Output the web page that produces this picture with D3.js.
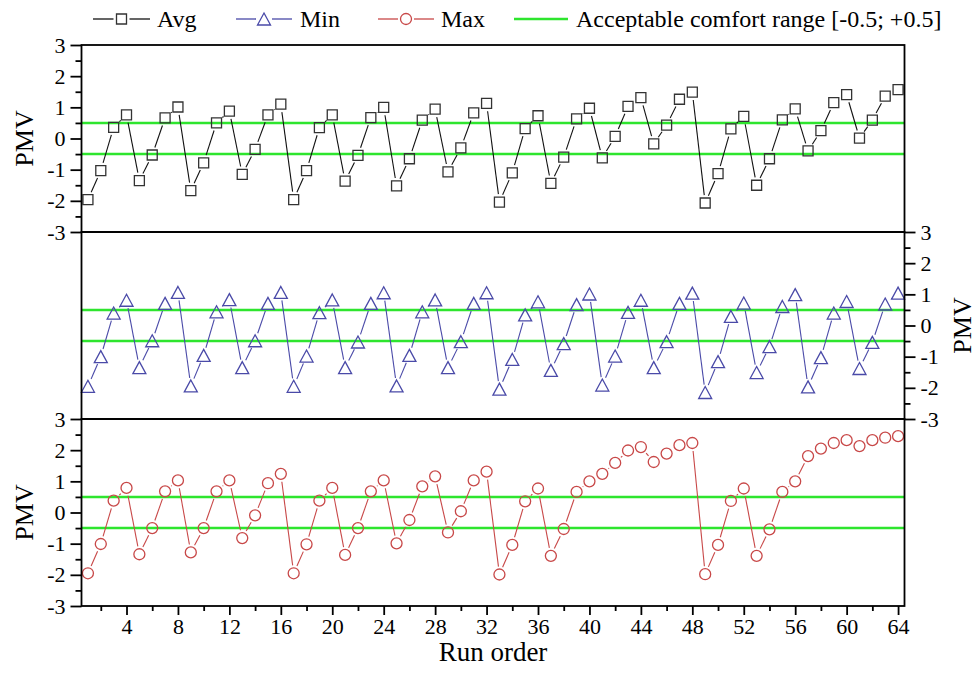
<!DOCTYPE html>
<html><head><meta charset="utf-8">
<script src="https://cdn.jsdelivr.net/npm/d3@7"></script>
<style>body{margin:0;background:#fff}text{font-family:"Liberation Serif","Times New Roman",serif;fill:#000}</style>
</head><body><svg id="c" width="976" height="679"></svg>
<script>
const runs = d3.range(1, 65);
const avgValues = [-1.96,-1.03,0.36,0.76,-1.35,-0.53,0.66,1.01,-1.67,-0.78,0.50,0.88,-1.15,-0.35,0.76,1.10,
  -1.96,-1.03,0.35,0.76,-1.37,-0.54,0.67,1.00,-1.52,-0.65,0.59,0.94,-1.07,-0.30,0.82,1.13,
  -2.04,-1.10,0.32,0.73,-1.44,-0.60,0.63,0.97,-0.62,0.07,1.03,1.31,-0.17,0.43,1.26,1.49,
  -2.07,-1.13,0.31,0.71,-1.50,-0.65,0.60,0.95,-0.40,0.25,1.15,1.41,0.01,0.59,1.36,1.57];
const minValues = [-1.95,-1.00,0.40,0.81,-1.35,-0.49,0.71,1.06,-1.94,-0.96,0.44,0.83,-1.35,-0.49,0.71,1.06,
  -1.95,-0.98,0.41,0.82,-1.35,-0.53,0.71,1.05,-1.94,-0.96,0.44,0.82,-1.35,-0.52,0.71,1.05,
  -2.04,-1.09,0.34,0.76,-1.44,-0.58,0.67,1.01,-1.91,-0.98,0.42,0.81,-1.35,-0.52,0.71,1.04,
  -2.15,-1.16,0.29,0.72,-1.51,-0.68,0.61,0.99,-1.97,-1.03,0.40,0.77,-1.38,-0.54,0.69,1.04];
const maxValues = [-1.95,-1.01,0.38,0.79,-1.34,-0.50,0.68,1.03,-1.28,-0.50,0.68,1.03,-0.82,-0.09,0.94,1.24,
  -1.95,-1.02,0.38,0.79,-1.36,-0.50,0.68,1.03,-0.99,-0.24,0.84,1.16,-0.64,0.04,1.03,1.31,
  -1.99,-1.04,0.36,0.77,-1.39,-0.53,0.66,1.00,1.24,1.59,1.99,2.10,1.62,1.89,2.16,2.23,
  -1.98,-1.04,0.37,0.77,-1.39,-0.54,0.66,1.00,1.81,2.05,2.23,2.32,2.13,2.32,2.40,2.45];
const comfortRange = [-0.5, 0.5];
const yTickLabels = [-3, -2, -1, 0, 1, 2, 3];
const yMinorTicks = [-2.5, -1.5, -0.5, 0.5, 1.5, 2.5];
const xTickLabels = [4, 8, 12, 16, 20, 24, 28, 32, 36, 40, 44, 48, 52, 56, 60, 64];
const xMinorTicks = [2, 6, 10, 14, 18, 22, 26, 30, 34, 38, 42, 46, 50, 54, 58, 62];
const seriesNames = ["Avg", "Min", "Max"];
const comfortLabel = "Acceptable comfort range [-0.5; +0.5]";

const svg = d3.select("#c");
const L = 81.5, R = 904.5, panelH = 187;
const tops = [45, 232, 419];
const colors = ["#333333", "#4a4aa8", "#c84848"];
const lineColors = ["#111111", "#4a4aa8", "#c84848"];
const green = "#2ee52e";
const fmt = d => String(d);
const x = d3.scaleLinear().domain([0.5, 64.5]).range([L, R]);

function markerPath(type) {
  if (type === 0) return "M-5,-5h10v10h-10z";
  if (type === 1) return "M0,-6L6.5,6L-6.5,6Z";
  return d3.arc()({innerRadius: 0, outerRadius: 5.5, startAngle: 0, endAngle: 2 * Math.PI});
}

function styleAxis(a) {
  a.select(".domain").remove();
  a.selectAll("line").attr("stroke", "#000").attr("stroke-width", 1.8);
  a.selectAll("text").style("font-size", "22px").attr("fill", "#000")
    .style("font-family", "'Liberation Serif', serif");
}

const allValues = [avgValues, minValues, maxValues];
allValues.forEach((vals, i) => {
  const top = tops[i];
  const y = d3.scaleLinear().domain([-3, 3]).range([top + panelH, top]);
  const g = svg.append("g");
  comfortRange.forEach(v => {
    g.append("line").attr("x1", L).attr("x2", R).attr("y1", y(v)).attr("y2", y(v))
      .attr("stroke", green).attr("stroke-width", 2.5);
  });
  const pts = runs.map((r, k) => [x(r), y(vals[k])]);
  const gap = 8;
  for (let k = 0; k < pts.length - 1; k++) {
    const [x0, y0] = pts[k], [x1, y1] = pts[k + 1];
    const dx = x1 - x0, dy = y1 - y0, d = Math.hypot(dx, dy);
    if (d <= 2 * gap) continue;
    const ux = dx / d, uy = dy / d;
    g.append("line").attr("x1", x0 + ux * gap).attr("y1", y0 + uy * gap)
      .attr("x2", x1 - ux * gap).attr("y2", y1 - uy * gap)
      .attr("stroke", lineColors[i]).attr("stroke-width", 1.1);
  }
  g.selectAll("path.m").data(pts).join("path").attr("class", "m")
    .attr("d", markerPath(i)).attr("transform", d => `translate(${d[0]},${d[1]})`)
    .attr("fill", "none").attr("stroke", colors[i]).attr("stroke-width", 1.3);
  g.append("rect").attr("x", L).attr("y", top).attr("width", R - L).attr("height", panelH)
    .attr("fill", "none").attr("stroke", "#000").attr("stroke-width", 1.8);
  const onRight = i === 1;
  const mk = onRight ? d3.axisRight : d3.axisLeft;
  const ax = g.append("g").attr("transform", `translate(${onRight ? R : L},0)`);
  ax.call(mk(y).tickValues(yMinorTicks).tickSize(6).tickFormat(""));
  const ax2 = g.append("g").attr("transform", `translate(${onRight ? R : L},0)`);
  ax2.call(mk(y).tickValues(yTickLabels).tickSize(11).tickPadding(5).tickFormat(fmt));
  styleAxis(ax); styleAxis(ax2);
  const cy = top + panelH / 2;
  const tx = onRight ? 962 : 24;
  g.append("text").attr("transform", `translate(${tx},${cy}) rotate(-90)`)
    .attr("text-anchor", "middle").attr("dominant-baseline", "central")
    .style("font-size", "26px").text("PMV");
});

const bottom = tops[2] + panelH;
const xa = svg.append("g").attr("transform", `translate(0,${bottom})`);
xa.call(d3.axisBottom(x).tickValues(xMinorTicks).tickSize(5).tickFormat(""));
const xa2 = svg.append("g").attr("transform", `translate(0,${bottom})`);
xa2.call(d3.axisBottom(x).tickValues(xTickLabels).tickSize(9).tickPadding(3).tickFormat(fmt));
styleAxis(xa); styleAxis(xa2);
svg.append("text").attr("x", (L + R) / 2).attr("y", 661).attr("text-anchor", "middle")
  .style("font-size", "27px").text("Run order");

const legY = 19;
const legItems = [
  {x0: 93, x1: 150, tx: 157, i: 0},
  {x0: 236, x1: 292, tx: 300, i: 1},
  {x0: 378, x1: 434, tx: 441, i: 2}
];
legItems.forEach(it => {
  const lg = svg.append("g");
  const cx = (it.x0 + it.x1) / 2;
  lg.append("line").attr("x1", it.x0).attr("x2", cx - 8).attr("y1", legY).attr("y2", legY)
    .attr("stroke", lineColors[it.i]).attr("stroke-width", 1.3);
  lg.append("line").attr("x1", cx + 8).attr("x2", it.x1).attr("y1", legY).attr("y2", legY)
    .attr("stroke", lineColors[it.i]).attr("stroke-width", 1.3);
  lg.append("path").attr("d", markerPath(it.i)).attr("transform", `translate(${cx},${legY})`)
    .attr("fill", "none").attr("stroke", colors[it.i]).attr("stroke-width", 1.3);
  lg.append("text").attr("x", it.tx).attr("y", legY).attr("dominant-baseline", "central")
    .style("font-size", "24px").text(seriesNames[it.i]);
});
svg.append("line").attr("x1", 514).attr("x2", 568).attr("y1", legY).attr("y2", legY)
  .attr("stroke", green).attr("stroke-width", 2.5);
svg.append("text").attr("x", 576).attr("y", legY).attr("dominant-baseline", "central")
  .style("font-size", "24px").text(comfortLabel);
</script></body></html>
